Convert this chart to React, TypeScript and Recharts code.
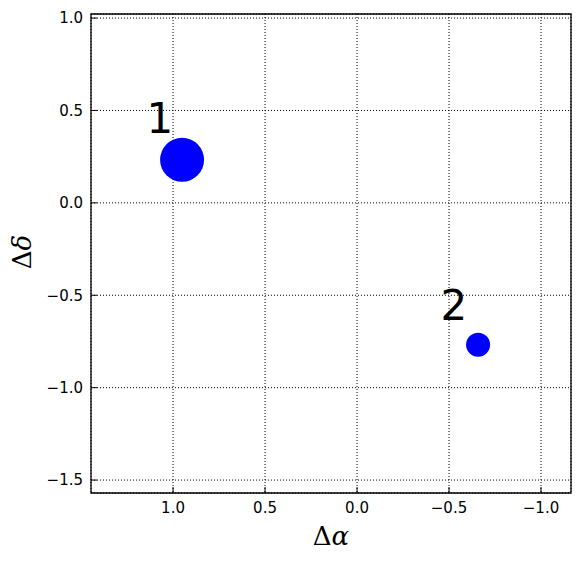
import React from 'react';
import { CartesianGrid, ReferenceArea, Scatter, ScatterChart, XAxis, YAxis, ZAxis } from 'recharts';

// offsets of the two sources (Δα, Δδ) and their relative flux
const sourceIds = ['1', '2'];
const dAlpha = [0.951, -0.658];
const dDelta = [0.233, -0.768];
const flux = [1.0, 0.3];

// where the number labels sit (data coords, baseline centre)
const labelAlpha = [1.071, -0.527];
const labelDelta = [0.379, -0.633];

const xTicks = [1.0, 0.5, 0.0, -0.5, -1.0];
const yTicks = [1.0, 0.5, 0.0, -0.5, -1.0, -1.5];
const xDomain = [-1.163, 1.446];
const yDomain = [-1.57, 1.022];

const sources = sourceIds.map((id, i) => ({ id, x: dAlpha[i], y: dDelta[i], z: flux[i] }));
const labels = sourceIds.map((id, i) => ({ id, x: labelAlpha[i], y: labelDelta[i], z: 0 }));

const fmt = (v: number) => v.toFixed(1).replace('-', '\u2212');

const tickStyle = { fill: '#000', fontSize: 15, fontFamily: 'DejaVu Sans' };
const tickLineStyle = { stroke: '#000', strokeWidth: 1 };

const LabelText = (props: any) => {
  const { cx, cy, payload } = props;
  return (
    <text x={cx} y={cy} textAnchor="middle" fontSize={42} fontFamily="DejaVu Sans" fill="#000">
      {payload.id}
    </text>
  );
};

const XTitle = (props: any) => {
  const { x, y, width } = props.viewBox;
  return (
    <text x={x + width / 2} y={y + 52} textAnchor="middle" fontSize={26} fontFamily="DejaVu Serif" fill="#000">
      Δ<tspan fontStyle="italic">α</tspan>
    </text>
  );
};

const YTitle = () => (
  <text
    x={0}
    y={0}
    transform="translate(31, 252) rotate(-90)"
    textAnchor="middle"
    fontSize={26}
    fontFamily="DejaVu Serif"
    fill="#000"
  >
    Δ<tspan fontStyle="italic">δ</tspan>
  </text>
);

export default function App() {
  return (
    <div style={{ margin: -8, width: 580, height: 562, background: '#fff' }}>
      <ScatterChart width={580} height={562} margin={{ top: 13, right: 8, bottom: 0, left: 0 }}>
        <CartesianGrid stroke="#000" strokeDasharray="1 2" strokeWidth={1} />
        <XAxis
          type="number"
          dataKey="x"
          domain={xDomain}
          reversed
          ticks={xTicks}
          tickFormatter={fmt}
          height={69}
          tickSize={-6}
          tickMargin={15}
          tick={tickStyle}
          axisLine={false}
          tickLine={tickLineStyle}
          allowDataOverflow
          label={<XTitle />}
        />
        <XAxis
          xAxisId="top"
          orientation="top"
          type="number"
          dataKey="x"
          domain={xDomain}
          reversed
          ticks={xTicks}
          height={1}
          tickSize={-6}
          tick={false}
          axisLine={false}
          tickLine={tickLineStyle}
          allowDataOverflow
        />
        <YAxis
          type="number"
          dataKey="y"
          domain={yDomain}
          ticks={yTicks}
          tickFormatter={fmt}
          width={91}
          tickSize={-6}
          tickMargin={14}
          tick={tickStyle}
          axisLine={false}
          tickLine={tickLineStyle}
          allowDataOverflow
          label={<YTitle />}
        />
        <YAxis
          yAxisId="right"
          orientation="right"
          type="number"
          dataKey="y"
          domain={yDomain}
          ticks={yTicks}
          width={1}
          tickSize={-6}
          tick={false}
          axisLine={false}
          tickLine={tickLineStyle}
          allowDataOverflow
        />
        <ZAxis type="number" dataKey="z" domain={[0, 1]} range={[0, 1520]} />
        <ReferenceArea
          x1={xDomain[1]}
          x2={xDomain[0]}
          y1={yDomain[0]}
          y2={yDomain[1]}
          fill="none"
          stroke="#000"
          strokeWidth={1.3}
          ifOverflow="visible"
        />
        <Scatter data={sources} fill="#0000ff" isAnimationActive={false} />
        <Scatter data={labels} shape={<LabelText />} isAnimationActive={false} />
      </ScatterChart>
    </div>
  );
}
